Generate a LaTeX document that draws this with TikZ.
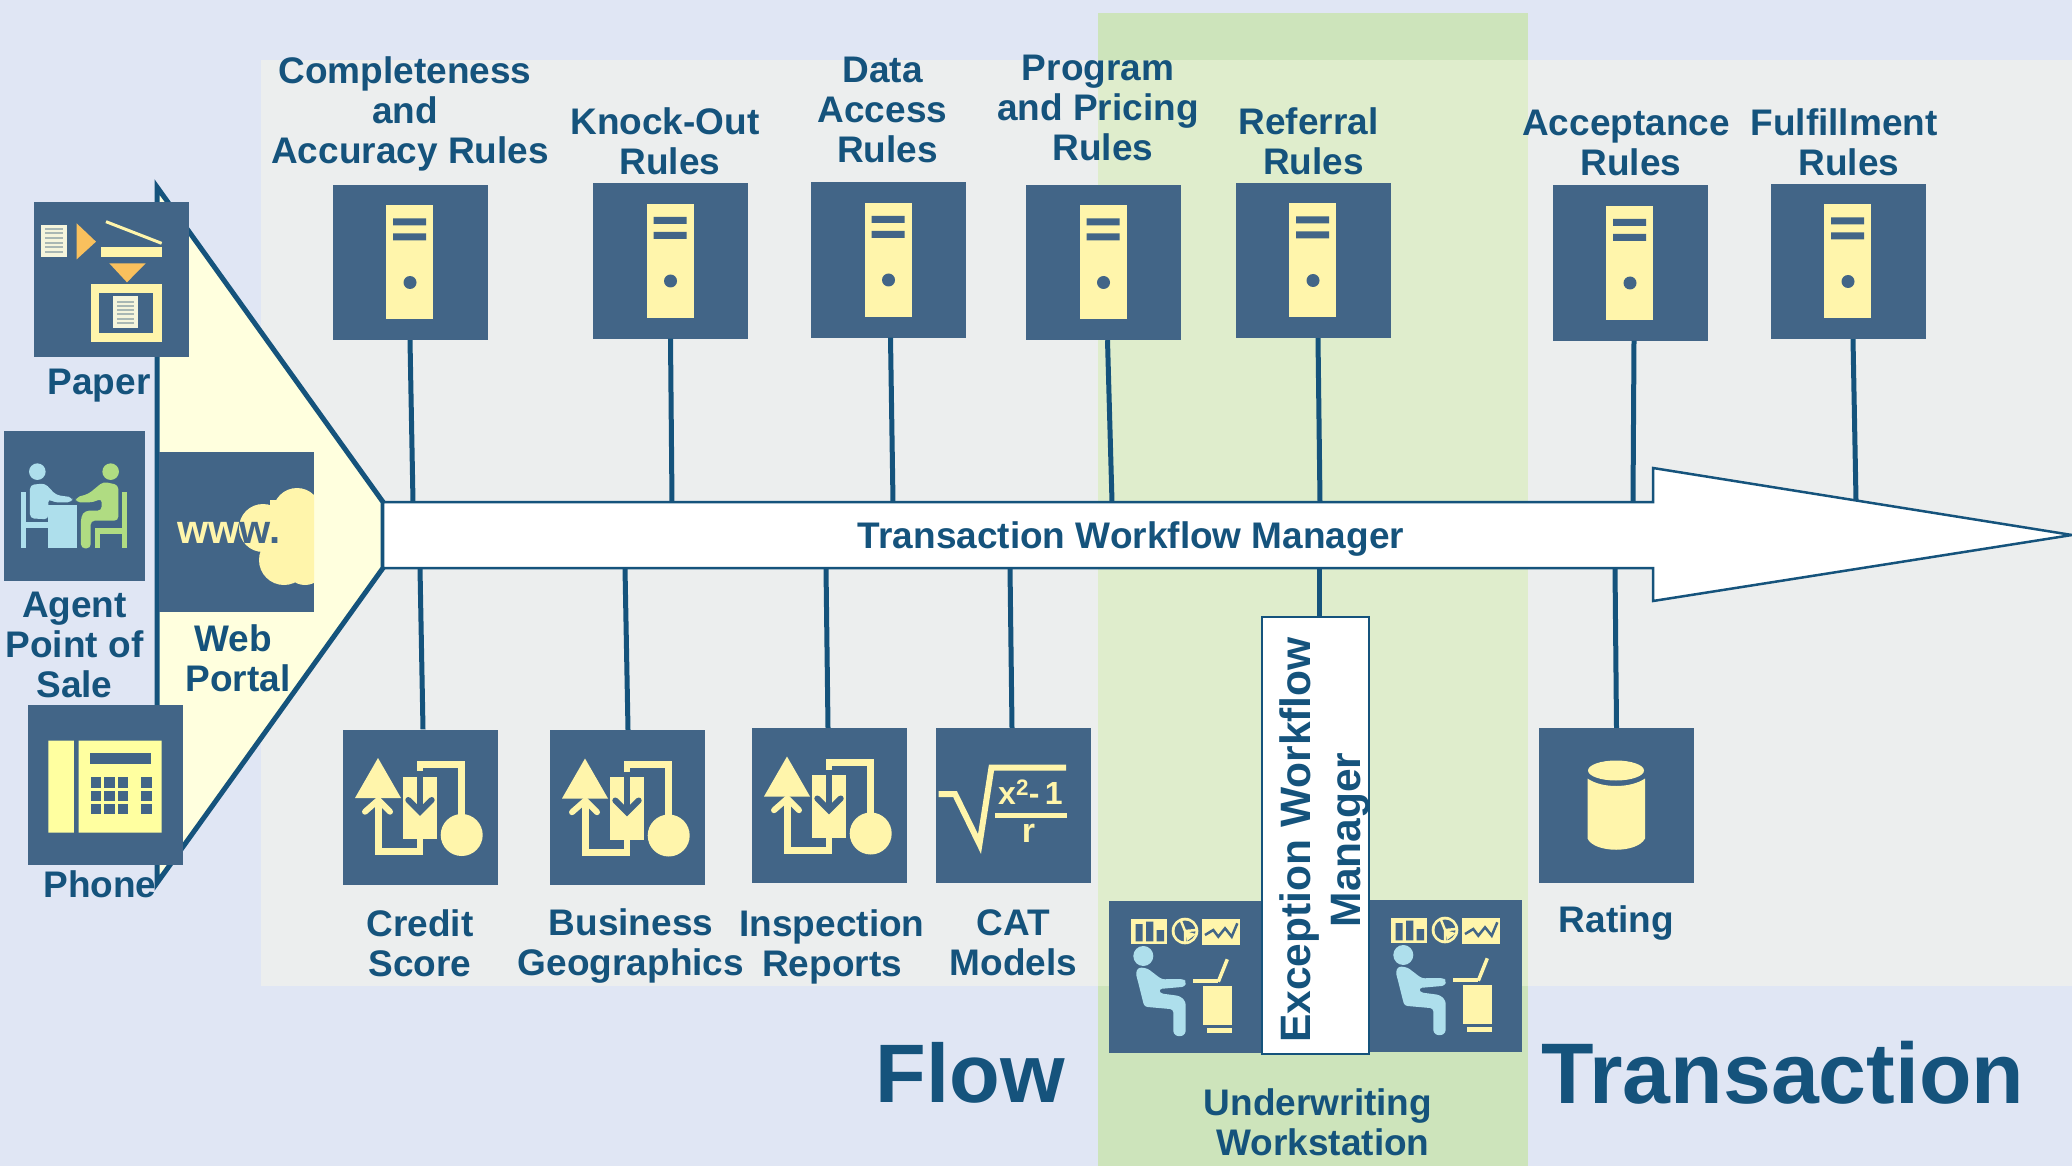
\documentclass[tikz,border=0pt]{standalone}
\usepackage{fontspec}
\setmainfont{Liberation Sans}
\definecolor{ink}{HTML}{15537C}
\definecolor{slate}{HTML}{426587}
\definecolor{pale}{HTML}{FFF5AB}
\definecolor{phoneY}{HTML}{FFFFA0}
\definecolor{sky}{HTML}{AEDFEC}
\definecolor{leaf}{HTML}{B0DC82}
\definecolor{amber}{HTML}{F9C05D}
\definecolor{paperW}{HTML}{F5F5DC}
\definecolor{lineG}{HTML}{A9B8B4}
\definecolor{bgblue}{HTML}{E0E6F4}
\definecolor{bggrey}{HTML}{ECEEEE}
\definecolor{greenA}{HTML}{CDE4BB}
\definecolor{greenB}{HTML}{DFEDCC}
\definecolor{tri}{HTML}{FFFFDE}
\newcommand\tsp{\hbox to 10pt{\hss}}
\tikzset{
  tile/.style={fill=slate,inner sep=0pt,minimum width=155pt,minimum height=155pt,draw=none},
  lab/.style={text=ink,align=center,inner sep=0pt,font=\fontsize{37}{40}\selectfont\bfseries,
     execute at begin node=\strut,execute at end node=\strut},
  labx/.style={text=ink,align=center,inner sep=0pt,font=\fontsize{42.5}{50}\selectfont\bfseries,
     execute at begin node=\strut,execute at end node=\strut},
  big/.style={text=ink,inner sep=0pt,font=\fontsize{#1}{90}\selectfont\bfseries},
  conn/.style={draw=ink,line width=5pt},
  zc/.style 2 args={shift={(#1,#2)},x=.33333pt,y=-.33333pt},
  pics/srv/.style={code={
    \fill[pale] (-24,-57) rectangle (23,57);
    \fill[slate] (-17,-44) rectangle (16,-37) (-17,-29) rectangle (16,-22);
    \fill[slate] (0,20) circle (6.5pt);
  }},
  pics/flowicon/.style={code={
    \fill[pale] (-42,-49) -- (-65,-9) -- (-19,-9) -- cycle;
    \draw[pale,line width=6.7pt] (-41.7,-7) -- (-41.7,44.7) -- (0,44.7) -- (0,30);
    \draw[pale,line width=6pt,line cap=round] (-55,4.7) -- (-41.7,-7) -- (-30,4.7);
    \fill[pale] (-16.7,-30.3) rectangle (16.7,32.3);
    \draw[pale,line width=6.7pt] (0,-30) -- (0,-42.7) -- (41.7,-42.7) -- (41.7,13);
    \fill[pale] (41.7,28) circle (21pt);
    \draw[slate,line width=6pt] (0,-36) -- (0,3);
    \draw[slate,line width=6pt,line cap=round] (-11.7,-7) -- (0,4.7) -- (11.7,-7);
  }},
  pics/deskicon/.style={code={
    \fill[pale] (-55.7,-58.3) rectangle (-19.7,-33);
    \fill[slate] (-51.3,-53) rectangle (-44.3,-35.7) (-41,-55.3) rectangle (-33.7,-35.7) (-30.3,-47) rectangle (-23,-35.7);
    \fill[pale] (-2,-46) circle (13.3pt);
    \fill[slate] (-2,-46) circle (10.5pt);
    \draw[pale,line width=2.5pt] (-6,-56) -- (-2,-46) -- (10,-47) (-2,-46) -- (-2,-35);
    \fill[pale] (-2,-46) -- (9,-43) -- (0,-36) -- cycle;
    \fill[pale] (15,-57.7) rectangle (53,-32.3);
    \draw[slate,line width=2.5pt] (18,-42) -- (26.3,-47) -- (31.3,-40.3) -- (38,-48.7) -- (44.7,-40.3) -- (50.3,-53.7);
    \fill[sky] (-43.7,-21) circle (10pt);
    \fill[sky,rounded corners=3pt] (-51.3,-4.3) -- (-42.7,29.7) -- (-13.7,32.3) -- (-13.7,57) -- (-7.7,60) -- (-1.3,57) -- (-1.3,24.7) -- (-7,19) -- (-27,16.3) -- (-28,12) -- (-2,9.7) -- (-0.7,4.7) -- (-3.7,2) -- (-25.3,2.3) -- (-39.7,-8.7) -- (-48.7,-9.7) -- cycle;
    \fill[pale] (6.3,1.7) rectangle (31.3,5.7);
    \draw[pale,line width=3.5pt] (31.3,4.7) -- (40.3,-17.7);
    \fill[pale] (16.3,9) rectangle (44.7,48);
    \fill[pale] (20.3,51.3) rectangle (44.7,56.3);
  }},
}
\begin{document}
\begin{tikzpicture}[x=1pt,y=-1pt]
\useasboundingbox (0,0) rectangle (2072,1166);
% backgrounds
\fill[bgblue] (0,0) rectangle (2072,1166);
\fill[bggrey] (261,60) rectangle (2072,986);
\fill[greenA] (1098,13) rectangle (1528,1166);
\fill[greenB] (1098,60) rectangle (1528,986);
% funnel
\coordinate (fTop) at (157,187);
\coordinate (fR1) at (383,502);
\coordinate (fR2) at (383,568);
\coordinate (fBot) at (157,883);
\filldraw[fill=tri,draw=ink,line width=5pt] (fTop) -- (fR1) -- (fR2) -- (fBot) -- cycle;

% server tiles
\node[tile] (comp) at (410,262.5) {};
\node[tile] (knock) at (670.5,261) {};
\node[tile] (data) at (888.5,260) {};
\node[tile] (prog) at (1103.5,262.5) {};
\node[tile] (refe) at (1313,260.5) {};
\node[tile] (acce) at (1630,263) {};
\node[tile] (fulf) at (1848,261.5) {};
\foreach \n in {comp,knock,data,prog,refe,acce,fulf} \pic at (\n.center) {srv};

% lower tiles
\node[tile] (cred) at (420,807) {};
\node[tile] (busi) at (627,807.5) {};
\node[tile] (insp) at (829,805.5) {};
\node[tile] (cat) at (1013.5,805.5) {};
\node[tile] (rate) at (1616.5,805.5) {};
\foreach \n in {cred,busi,insp} \pic at (\n.center) {flowicon};

% CAT icon
\draw[pale,line width=6pt] (cat.center) ++(-75,-11.5) -- ++(16.5,0) -- ++(24.5,50) -- ++(12,-76.5) -- ++(74.5,0);
\fill[pale] ([shift={(-18.5,7.5)}]cat.center) rectangle ([shift={(53,12.5)}]cat.center);
\node[text=pale,inner sep=0pt,font=\fontsize{32}{32}\selectfont\bfseries] (catx) at ([shift={(17,-13)}]cat.center) {x\textsuperscript{2}-\,1};
\node[text=pale,inner sep=0pt,font=\fontsize{34}{34}\selectfont\bfseries] (catr) at ([shift={(15,28)}]cat.center) {r};

% rating cylinder
\begin{scope}[shift={(rate.center)}]
  \fill[pale] (-0.5,-35) ellipse (28pt and 10pt);
  \fill[pale] (-29,-27) -- (-29,33) .. controls (-22,48) and (21,48) .. (28.5,33) -- (28.5,-27) .. controls (14,-17) and (-15,-17) .. (-29,-27) -- cycle;
\end{scope}

% workstation tiles
\node[tile,minimum width=156pt,minimum height=152pt] (wsL) at (1187,977) {};
\node[tile,minimum width=153pt,minimum height=152pt] (wsR) at (1445.5,976) {};
\pic at ([xshift=0pt]wsL.center) {deskicon};
\pic at ([xshift=1.5pt]wsR.center) {deskicon};

% paper tile
\node[tile] (pap) at (111.5,279.5) {};
\begin{scope}[zc={0}{170}]
  \fill[paperW] (122,165) rectangle (200,262);
  \foreach \yy in {178,190,203,218,232,245} \draw[lineG,line width=1.8pt] (135,\yy) -- (188,\yy);
  \fill[amber] (230,160) -- (288,215) -- (230,268) -- cycle;
  \draw[pale,line width=3pt] (318,155) -- (485,220);
  \fill[pale] (303,230) rectangle (487,262);
  \fill[amber] (328,280) -- (437,280) -- (381,337) -- cycle;
  \fill[pale] (272,342) rectangle (487,517);
  \fill[slate] (298,370) rectangle (460,488);
  \fill[paperW] (340,378) rectangle (415,475);
  \foreach \yy in {395,408,420,433,447,460} \draw[lineG,line width=2pt] (352,\yy) -- (403,\yy);
\end{scope}

% agent tile
\node[tile,minimum width=141pt,minimum height=150pt] (agen) at (74.5,506) {};
\begin{scope}[zc={0}{170}]
  \fill[sky] (112,905) circle (8.3pt);
  \fill[sky,rounded corners=4pt] (90,945) -- (90,1045) -- (145,1048) -- (145,985) -- (160,997) -- (215,997) -- (218,982) -- (168,975) -- (135,940) -- cycle;
  \fill[sky] (62,965) rectangle (78,1135);
  \fill[sky] (78,1055) rectangle (146,1075);
  \fill[sky] (145,1005) rectangle (230,1135);
  \fill[leaf] (332,905) circle (8.3pt);
  \fill[leaf,rounded corners=4pt] (355,945) -- (355,1052) -- (272,1052) -- (272,1135) -- (243,1135) -- (243,1040) -- (255,1022) -- (305,1022) -- (305,985) -- (280,997) -- (228,997) -- (228,982) -- (265,972) -- (310,935) -- cycle;
  \fill[leaf] (365,965) rectangle (380,1135);
  \fill[leaf] (285,1075) rectangle (365,1092);
  \fill[leaf] (285,1075) rectangle (300,1135);
\end{scope}

% web tile
\node[tile,minimum height=160pt] (web) at (236.5,532) {};
\begin{scope}
  \clip (159,452) rectangle (314,612);
  \fill[pale] (263,528) circle (24pt) (297,512) circle (24pt) (284,560) circle (25pt) (305,565) circle (20pt) (270,500) rectangle (330,570);
\end{scope}
\node[inner sep=0pt,font=\fontsize{40}{40}\selectfont\bfseries] (wwwt) at (229,533) {\textcolor{pale}{ww}\textcolor{slate}{w.}};

% phone tile
\node[tile,minimum height=160pt] (phon) at (105.5,785) {};
\begin{scope}[zc={0}{560}]
  \fill[phoneY] (145,542) rectangle (222,818) (236,542) rectangle (485,818);
  \fill[slate] (270,578) rectangle (452,613);
  \foreach \xx/\xy in {272/304,313/344,353/385,423/456}
    \foreach \yy/\yz in {652/683,692/722,732/763}
      \fill[slate] (\xx,\yy) rectangle (\xy,\yz);
\end{scope}

% exception box
\node[draw=ink,line width=2.5pt,fill=white,minimum width=107pt,minimum height=437pt,inner sep=0pt] (exce) at (1315.5,835.5) {};

% connectors: free ends on the flow arrow
\coordinate (u1) at (413,502); \coordinate (u2) at (672,502); \coordinate (u3) at (893,502);
\coordinate (u4) at (1112,502); \coordinate (u5) at (1320,502); \coordinate (u6) at (1633,502);
\coordinate (u7) at (1856,500);
\coordinate (d1) at (420,568); \coordinate (d2) at (625,568); \coordinate (d3) at (826,568);
\coordinate (d4) at (1010,568); \coordinate (d5) at (1319,568); \coordinate (d6) at (1615,568);
\draw[conn] (comp.south) -- (u1);
\draw[conn] (knock.south) -- (u2);
\draw[conn] ([xshift=2pt]data.south) -- (u3);
\draw[conn] ([xshift=4pt]prog.south) -- (u4);
\draw[conn] ([xshift=5pt]refe.south) -- (u5);
\draw[conn] ([xshift=4pt]acce.south) -- (u6);
\draw[conn] ([xshift=5pt]fulf.south) -- (u7);
\draw[conn] (d1) -- ([xshift=3pt]cred.north);
\draw[conn] (d2) -- ([xshift=1pt]busi.north);
\draw[conn] (d3) -- ([xshift=-1pt]insp.north);
\draw[conn] (d4) -- ([xshift=-1.5pt]cat.north);
\draw[conn] (d5) -- ([xshift=3.5pt]exce.north);
\draw[conn] (d6) -- (rate.north);

% flow arrow
\filldraw[fill=white,draw=ink,line width=2.5pt,line join=miter] (383,502) -- (1653,502) -- (1653,468) -- (2072,535) -- (1653,601) -- (1653,568) -- (383,568) -- cycle;
\node[lab] (twm) at (1131,540) {Transaction Workflow Manager};

% labels
\node[lab] (lcomp) at (410,116) {Completeness\tsp\\and\tsp\\Accuracy Rules};
\node[lab] (lknock) at (670,147) {Knock-Out\tsp\\Rules};
\node[lab] (ldata) at (887.5,116) {Data\tsp\\Access\tsp\\Rules};
\node[lab] (lprog) at (1103,114) {Program\tsp\\and Pricing\tsp\\Rules};
\node[lab] (lrefe) at (1313.5,147) {Referral\tsp\\Rules};
\node[lab] (lacce) at (1631,149) {Acceptance\tsp\\Rules};
\node[lab] (lfulf) at (1849,148) {Fulfillment\tsp\\Rules};
\node[lab] (lcred) at (420,949) {Credit\\Score};
\node[lab] (lbusi) at (631,948) {Business\\Geographics};
\node[lab] (linsp) at (832,949) {Inspection\\Reports};
\node[lab] (lcat) at (1013.5,949) {CAT\\Models};
\node[lab] (lrate) at (1616.5,924) {Rating};
\node[lab] (lpap) at (99,386.5) {Paper};
\node[lab] (lagen) at (74.5,651) {Agent\\Point of\\Sale};
\node[lab] (lweb) at (238,664) {Web\tsp\\Portal};
\node[lab] (lphon) at (100,889) {Phone};
\node[lab] (luw) at (1323,1128) {Underwriting\tsp\\Workstation};
\node[labx,rotate=90] (lexc) at (1328,840) {Exception Workflow\\Manager};
\node[big=83] (lflow) at (970,1073) {Flow};
\node[big=86] (ltran) at (1783,1073) {Transaction};
\end{tikzpicture}
\end{document}
